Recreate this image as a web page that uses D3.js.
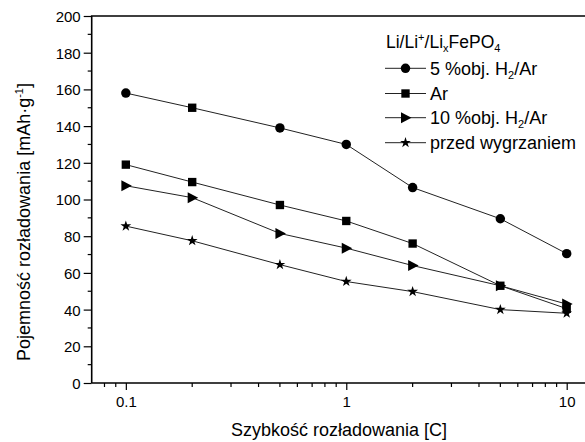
<!DOCTYPE html>
<html><head><meta charset="utf-8">
<script src="https://cdn.jsdelivr.net/npm/d3@7/dist/d3.min.js"></script>
<style>body{margin:0;background:#fff}svg{display:block}text{font-family:"Liberation Sans",Arial,sans-serif;fill:#000}</style>
</head><body>
<svg id="c" width="585" height="442"></svg>
<script>
const rates = [0.1, 0.2, 0.5, 1, 2, 5, 10];
const h2five = [158, 150, 139, 130, 106.5, 89.5, 70.5];
const argon = [119, 109.5, 97, 88.3, 76, 53, 40.5];
const h2ten = [107.5, 101, 81.5, 73.5, 64, 53, 43];
const before = [85.5, 77.5, 64.5, 55.3, 49.8, 40, 38];
const h2fiveShapes = ["circle", "square", "circle", "circle", "circle", "circle", "circle"];
const yTicks = [0, 20, 40, 60, 80, 100, 120, 140, 160, 180, 200];
const xTickLabels = ["0.1", "1", "10"];

const series = [
  {name: ["5 %obj. H", "2", "/Ar"], values: h2five, shapes: h2fiveShapes, legendShape: "circle"},
  {name: ["Ar"], values: argon, shapes: rates.map(() => "square"), legendShape: "square"},
  {name: ["10 %obj. H", "2", "/Ar"], values: h2ten, shapes: rates.map(() => "triangle"), legendShape: "triangle"},
  {name: ["przed wygrzaniem"], values: before, shapes: rates.map(() => "star"), legendShape: "star"}
];

const svg = d3.select("#c");
const pLeft = 91.7, pTop = 16, pBottom = 383;
const x = d3.scaleLog().domain([0.07, 10]).range([pLeft, 566.7]);
const y = d3.scaleLinear().domain([0, 200]).range([pBottom, pTop]);

function symbolPath(shape) {
  if (shape === "circle") return d3.symbol(d3.symbolCircle, 70)();
  if (shape === "square") return d3.symbol(d3.symbolSquare, 70)();
  if (shape === "star") return d3.symbol(d3.symbolStar, 36)();
  return "M-4.5,-5.5L6,0L-4.5,5.5Z";
}

const xMinor = [];
[0.01, 0.1, 1].forEach(d => { for (let k = 2; k <= 9; k++) xMinor.push(+(d * k).toPrecision(3)); });
const minorVals = xMinor.filter(v => v > 0.071 && v < 10);

const gx = svg.append("g").attr("transform", `translate(0,${pBottom})`);
gx.call(d3.axisBottom(x).tickValues([0.1, 1, 10]).tickFormat((d, i) => xTickLabels[i]).tickSize(7).tickSizeOuter(0))
  .call(g => g.select(".domain").remove());
gx.selectAll(".tick line").attr("stroke", "#000").attr("stroke-width", 1.2);
gx.selectAll(".tick text").attr("font-size", 15).attr("dy", 0).attr("y", 24).attr("font-family", "Liberation Sans, Arial, sans-serif");
gx.selectAll(".mtick").data(minorVals).join("line").attr("class", "mtick")
  .attr("x1", d => x(d)).attr("x2", d => x(d)).attr("y1", 0).attr("y2", 4)
  .attr("stroke", "#000").attr("stroke-width", 1.2);

const gy = svg.append("g").attr("transform", `translate(${pLeft},0)`);
gy.call(d3.axisLeft(y).tickValues(yTicks).tickSize(8).tickSizeOuter(0))
  .call(g => g.select(".domain").remove());
gy.selectAll(".tick line").attr("stroke", "#000").attr("stroke-width", 1.2);
gy.selectAll(".tick text").attr("font-size", 15).attr("x", -11).attr("dy", "0.36em").attr("font-family", "Liberation Sans, Arial, sans-serif");
gy.selectAll(".mtick").data(d3.range(10, 200, 20)).join("line").attr("class", "mtick")
  .attr("x1", -4).attr("x2", 0).attr("y1", d => y(d)).attr("y2", d => y(d))
  .attr("stroke", "#000").attr("stroke-width", 1.2);

svg.append("path").attr("d", `M${pLeft},${pBottom}H600M${pLeft},${pBottom}V${pTop}H600`)
  .attr("fill", "none").attr("stroke", "#000").attr("stroke-width", 1.6);

const line = d3.line().x(d => x(d[0])).y(d => y(d[1]));
series.forEach(s => {
  const pts = rates.map((r, i) => [r, s.values[i]]);
  svg.append("path").attr("d", line(pts)).attr("fill", "none").attr("stroke", "#222").attr("stroke-width", 1);
  svg.append("g").selectAll("path").data(pts).join("path")
    .attr("transform", d => `translate(${x(d[0])},${y(d[1])})`)
    .attr("d", (d, i) => symbolPath(s.shapes[i]))
    .attr("fill", "#000");
});

const lg = svg.append("g");
const title = lg.append("text").attr("x", 386).attr("y", 48).attr("font-size", 17.5);
title.append("tspan").text("Li/Li");
title.append("tspan").text("+").attr("font-size", 11).attr("dy", -7);
title.append("tspan").text("/Li").attr("dy", 7);
title.append("tspan").text("x").attr("font-size", 11).attr("dy", 4);
title.append("tspan").text("FePO").attr("dy", -4);
title.append("tspan").text("4").attr("font-size", 11).attr("dy", 4);

const rowY = [68.3, 93.5, 117.7, 142.7];
series.forEach((s, i) => {
  const cy = rowY[i];
  lg.append("line").attr("x1", 385).attr("x2", 426).attr("y1", cy).attr("y2", cy).attr("stroke", "#222").attr("stroke-width", 1);
  lg.append("path").attr("transform", `translate(405.5,${cy})`).attr("d", symbolPath(s.legendShape)).attr("fill", "#000");
  const t = lg.append("text").attr("x", 430).attr("y", cy + 6.5).attr("font-size", 18);
  t.append("tspan").text(s.name[0]);
  if (s.name.length > 1) {
    t.append("tspan").text(s.name[1]).attr("font-size", 11).attr("dy", 4);
    t.append("tspan").text(s.name[2]).attr("dy", -4);
  }
});

svg.append("text").attr("x", 339).attr("y", 436).attr("text-anchor", "middle").attr("font-size", 18)
  .text("Szybkość rozładowania [C]");
const yl = svg.append("text").attr("transform", "translate(30,222) rotate(-90)").attr("text-anchor", "middle").attr("font-size", 18);
yl.append("tspan").text("Pojemność rozładowania [mAh·g");
yl.append("tspan").text("-1").attr("font-size", 11).attr("dy", -7);
yl.append("tspan").text("]").attr("dy", 7);
</script>
</body></html>
